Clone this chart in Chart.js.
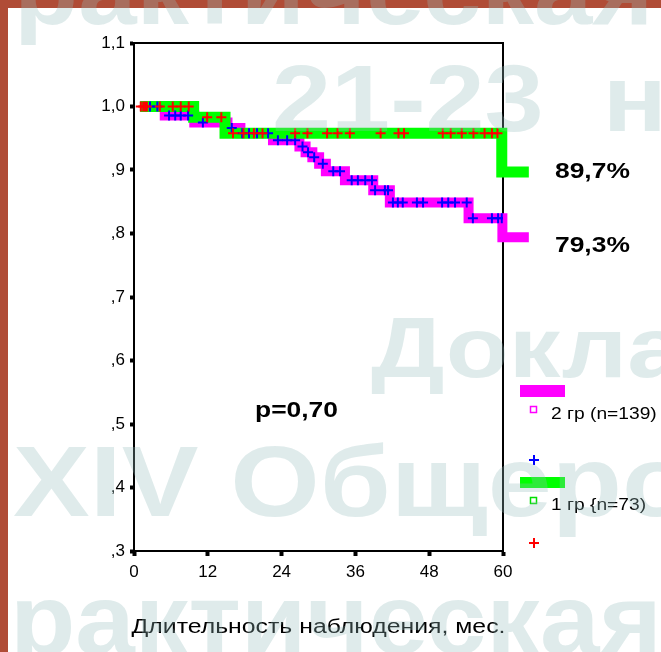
<!DOCTYPE html>
<html>
<head>
<meta charset="utf-8">
<script src="https://cdn.jsdelivr.net/npm/chart.js@4.4.0/dist/chart.umd.min.js"></script>
<style>
html, body { margin: 0; padding: 0; background: #fff; }
#wrap { width: 661px; height: 652px; }
</style>
</head>
<body>
<div id="wrap"><canvas id="km"></canvas></div>
<script>
// Kaplan-Meier curves
var g1Time = [1, 9.7, 14.8, 59.8, 64.2];
var g1Surv = [1, 0.983, 0.958, 0.897, 0.897];

var g2Time = [1, 5, 9.8, 15.2, 17.3, 22.6, 26.9, 27.9, 29, 30.1, 31.2, 34.3, 38.9, 41.6, 54.4, 59.9, 64.2];
var g2Surv = [1, 0.986, 0.975, 0.966, 0.958, 0.947, 0.937, 0.928, 0.92, 0.91, 0.898, 0.884, 0.868, 0.849, 0.824, 0.794, 0.794];

// censored cases (+)
var g1CensT = [1.1, 1.5, 1.8, 2.1, 4.2, 6.3, 7.6, 8.9, 11.9, 14.2,
  16.1, 17.8, 19.5, 20.9, 26.2, 28.2, 31.4, 33.1, 35.1, 40.1, 43, 43.9, 50.2, 51.5, 53.3, 55.2, 57, 58.2, 59.1];
var g1CensS = [1, 1, 1, 1, 1, 1, 1, 1, 0.983, 0.983,
  0.958, 0.958, 0.958, 0.958, 0.958, 0.958, 0.958, 0.958, 0.958, 0.958, 0.958, 0.958, 0.958, 0.958, 0.958, 0.958, 0.958, 0.958, 0.958];

var g2CensT = [2.6, 3.8, 5.7, 6.7, 7.6, 8.8, 11.2, 15.9, 17.6, 18.7, 20, 21.8, 23.4, 24.9, 26.2,
  27.4, 28.3, 29.3, 30.7, 32.4, 33.5, 35.4, 36.4, 37.6, 38.7, 39.2, 40.8, 41.3,
  42.1, 42.9, 43.7, 46, 47, 50.1, 51.1, 52.2, 54.1, 55.1, 58.2, 59.2, 59.8];
var g2CensS = [1, 1, 0.986, 0.986, 0.986, 0.986, 0.975, 0.966, 0.958, 0.958, 0.958, 0.958, 0.947, 0.947, 0.947,
  0.937, 0.928, 0.92, 0.91, 0.898, 0.898, 0.884, 0.884, 0.884, 0.884, 0.868, 0.868, 0.868,
  0.849, 0.849, 0.849, 0.849, 0.849, 0.849, 0.849, 0.849, 0.849, 0.824, 0.824, 0.824, 0.824];

var xTicks = [0, 12, 24, 36, 48, 60];
var groupNames = ["2 гр (n=139)", "1 гр {n=73)"];
var endLabels = ["89,7%", "79,3%"];
var pText = "p=0,70";
var xTitle = "Длительность наблюдения, мес.";

var FONT = "'Liberation Sans', Arial, sans-serif";

function pts(t, s) {
    return t.map(function (v, i) { return { x: v, y: s[i] }; });
}

// slide text looks horizontally stretched
function wideText(ctx, txt, x, y, font, color, sx, align) {
    ctx.save();
    ctx.font = font;
    ctx.fillStyle = color;
    ctx.textBaseline = 'middle';
    ctx.textAlign = align || 'left';
    ctx.translate(x, y);
    ctx.scale(sx, 1);
    ctx.fillText(txt, 0, 0);
    ctx.restore();
}

function cross(ctx, x, y, r, color) {
    ctx.save();
    ctx.strokeStyle = color;
    ctx.lineWidth = 2;
    ctx.beginPath();
    ctx.moveTo(x - r, y); ctx.lineTo(x + r, y);
    ctx.moveTo(x, y - r); ctx.lineTo(x, y + r);
    ctx.stroke();
    ctx.restore();
}

var slidePlugin = {
    id: 'slide',
    beforeDraw: function (chart) {
        var ctx = chart.ctx;
        ctx.save();
        ctx.fillStyle = '#ffffff';
        ctx.fillRect(0, 0, chart.width, chart.height);
        ctx.fillStyle = '#b04c36';
        ctx.fillRect(0, 0, 8, chart.height);
        ctx.fillRect(0, 0, chart.width, 8);
        ctx.restore();
    },
    beforeDatasetsDraw: function (chart) {
        var a = chart.chartArea, ctx = chart.ctx;
        ctx.save();
        ctx.strokeStyle = '#000';
        ctx.lineWidth = 2;
        ctx.beginPath();
        ctx.moveTo(a.left, a.top);
        ctx.lineTo(a.right, a.top);
        ctx.lineTo(a.right, a.bottom);
        ctx.stroke();
        ctx.restore();
    },
    afterDraw: function (chart) {
        var ctx = chart.ctx;
        var a = chart.chartArea;
        var ys = chart.scales.y;

        // axis title
        wideText(ctx, xTitle, (a.left + a.right) / 2, 627, '20px ' + FONT, '#000', 1.24, 'center');

        // p value and end labels
        wideText(ctx, pText, 255, 411, 'bold 22px ' + FONT, '#000', 1.2);
        wideText(ctx, endLabels[0], a.right + 52, ys.getPixelForValue(g1Surv[g1Surv.length - 1]), 'bold 22px ' + FONT, '#000', 1.2);
        wideText(ctx, endLabels[1], a.right + 52, ys.getPixelForValue(g2Surv[g2Surv.length - 1]) + 9, 'bold 22px ' + FONT, '#000', 1.2);

        // legend
        var lx = a.right + 17;
        ctx.save();
        ctx.fillStyle = '#ff00ff';
        ctx.fillRect(lx, 385, 45, 12);
        ctx.strokeStyle = '#ff00ff';
        ctx.lineWidth = 1.5;
        ctx.strokeRect(lx + 10.5, 406.5, 6, 6);
        ctx.fillStyle = '#00ff00';
        ctx.fillRect(lx, 477, 45, 11);
        ctx.strokeStyle = '#00e000';
        ctx.strokeRect(lx + 10.5, 497.5, 6, 6);
        ctx.restore();
        wideText(ctx, groupNames[0], lx + 31, 415, '16px ' + FONT, '#000', 1.2);
        wideText(ctx, groupNames[1], lx + 31, 506, '16px ' + FONT, '#000', 1.2);
        cross(ctx, lx + 14, 460, 5, '#0000ff');
        cross(ctx, lx + 14, 543, 5, '#ff0000');

        // faint watermark lying over the slide
        var wm = 'rgba(150,190,190,0.3)';
        wideText(ctx, 'рактическая', 14, -4, 'bold 100px ' + FONT, wm, 1.05);
        wideText(ctx, '21-23  ноября', 272, 105, 'bold 94px ' + FONT, wm, 1.13);
        wideText(ctx, 'Доклады', 371, 353, 'bold 86px ' + FONT, wm, 1.2);
        wideText(ctx, 'XIV Общероссийская', 13, 488, 'bold 100px ' + FONT, wm, 1.15);
        wideText(ctx, 'рактическая', 10, 626, 'bold 100px ' + FONT, wm, 1.07);
    }
};

var ctx = document.getElementById('km');

new Chart(ctx, {
    type: 'line',
    data: {
        datasets: [
            {
                label: 'cens1',
                data: pts(g1CensT, g1CensS),
                showLine: false,
                pointStyle: 'cross',
                pointRadius: 5,
                pointBorderWidth: 2,
                borderColor: '#ff0000',
                pointBorderColor: '#ff0000',
                order: 0
            },
            {
                label: 'cens2',
                data: pts(g2CensT, g2CensS),
                showLine: false,
                pointStyle: 'cross',
                pointRadius: 5,
                pointBorderWidth: 2,
                borderColor: '#0000ff',
                pointBorderColor: '#0000ff',
                order: 1
            },
            {
                label: groupNames[1],
                data: pts(g1Time, g1Surv),
                stepped: 'before',
                borderColor: '#00ff00',
                borderWidth: 11,
                borderCapStyle: 'butt',
                borderJoinStyle: 'miter',
                pointRadius: 0,
                fill: false,
                clip: false,
                order: 2
            },
            {
                label: groupNames[0],
                data: pts(g2Time, g2Surv),
                stepped: 'before',
                borderColor: '#ff00ff',
                borderWidth: 10,
                borderCapStyle: 'butt',
                borderJoinStyle: 'miter',
                pointRadius: 0,
                fill: false,
                clip: false,
                order: 3
            }
        ]
    },
    options: {
        responsive: true,
        maintainAspectRatio: false,
        animation: false,
        devicePixelRatio: 1,
        layout: { padding: { top: 43, right: 158, left: 0, bottom: 0 } },
        plugins: {
            legend: { display: false },
            tooltip: { enabled: false }
        },
        scales: {
            x: {
                type: 'linear',
                min: 0,
                max: 60,
                afterBuildTicks: function (s) {
                    s.ticks = xTicks.map(function (v) { return { value: v }; });
                },
                afterFit: function (s) { s.height = 101; },
                ticks: {
                    color: '#000',
                    padding: 6,
                    maxRotation: 0,
                    font: { family: FONT, size: 17 }
                },
                grid: {
                    drawOnChartArea: false,
                    tickLength: 5,
                    tickWidth: 4,
                    tickColor: '#000'
                },
                border: { color: '#000', width: 2 }
            },
            y: {
                min: 0.3,
                max: 1.1,
                afterFit: function (s) { s.width = 134; },
                ticks: {
                    stepSize: 0.1,
                    color: '#000',
                    padding: 5,
                    font: { family: FONT, size: 17 },
                    callback: function (v) {
                        var n = Math.round(v * 10);
                        if (n >= 10) return (n / 10).toFixed(1).replace('.', ',');
                        return ',' + n;
                    }
                },
                grid: {
                    drawOnChartArea: false,
                    tickLength: 4,
                    tickWidth: 4,
                    tickColor: '#000'
                },
                border: { color: '#000', width: 2 }
            }
        }
    },
    plugins: [slidePlugin]
});
</script>
</body>
</html>
